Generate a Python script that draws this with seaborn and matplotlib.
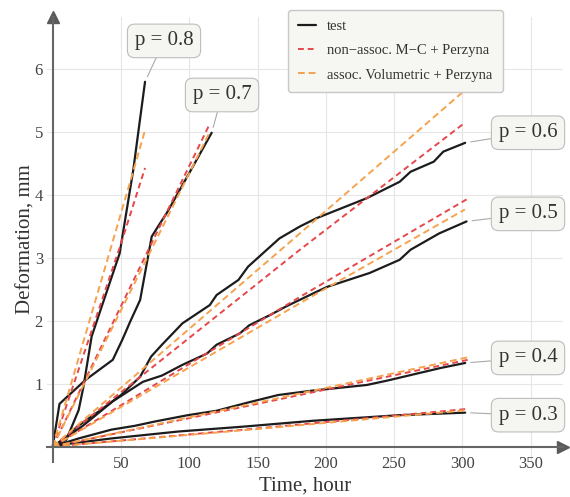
import numpy as np
import pandas as pd
import matplotlib.pyplot as plt
import seaborn as sns

# DATOS
# Curvas de ensayo (test): tiempo en horas, deformación en mm
t_test_08 = [0, 10, 19, 22.5, 28.5, 35, 49, 59, 67.6]
d_test_08 = [0, 0.11, 0.58, 0.95, 1.75, 2.17, 3.07, 4.40, 5.80]

t_test_07 = [0, 5, 10, 24, 44, 51, 57, 64, 72.5, 78.6, 83.4, 100, 116.4]
d_test_07 = [0, 0.68, 0.78, 1.06, 1.38, 1.70, 2.00, 2.33, 3.34, 3.55, 3.71, 4.35, 4.99]

t_test_06 = [0, 10, 18, 35, 50, 64, 72, 80, 95, 115, 120, 136, 143, 166, 181, 193, 230, 254, 262, 279, 286, 302]
d_test_06 = [0, 0.15, 0.32, 0.58, 0.82, 1.11, 1.43, 1.62, 1.96, 2.25, 2.41, 2.65, 2.86, 3.31, 3.50, 3.63, 3.95, 4.21, 4.37, 4.53, 4.69, 4.83]

t_test_05 = [0, 10, 22, 44, 66, 80, 95, 113, 120, 137, 144, 159, 171, 193, 201, 232, 254, 262, 283, 303]
d_test_05 = [0, 0.15, 0.33, 0.72, 1.03, 1.13, 1.30, 1.48, 1.62, 1.80, 1.93, 2.09, 2.23, 2.46, 2.54, 2.76, 2.97, 3.13, 3.39, 3.58]

t_test_04 = [0, 19, 43, 60, 75, 99, 120, 141, 165, 190, 230, 245, 284, 302]
d_test_04 = [0, 0.13, 0.27, 0.33, 0.40, 0.50, 0.57, 0.69, 0.82, 0.89, 0.98, 1.05, 1.25, 1.33]

t_test_03 = [0, 10, 43, 92, 141, 190, 254, 302]
d_test_03 = [0, 0.04, 0.13, 0.24, 0.32, 0.41, 0.50, 0.54]

# Modelo no asociado M-C + Perzyna
t_mc_08 = [0, 50.5, 67.6]
d_mc_08 = [0, 3.26, 4.43]
t_mc_07 = [0, 60, 115.2]
d_mc_07 = [0, 2.68, 5.14]
t_mc_06 = [0, 181, 301.8]
d_mc_06 = [0, 3.13, 5.15]
t_mc_05 = [0, 181, 303]
d_mc_05 = [0, 2.38, 3.93]
t_mc_04 = [0, 150, 304]
d_mc_04 = [0, 0.68, 1.38]
t_mc_03 = [0, 150, 304]
d_mc_03 = [0, 0.29, 0.60]

# Modelo asociado volumétrico + Perzyna
t_vol_08 = [0, 57.8, 67.6]
d_vol_08 = [0, 4.29, 5.03]
t_vol_07 = [0, 60, 115.2]
d_vol_07 = [0, 2.60, 5.01]
t_vol_06 = [0, 181, 300.4]
d_vol_06 = [0, 3.39, 5.64]
t_vol_05 = [0, 181, 301.8]
d_vol_05 = [0, 2.28, 3.77]
t_vol_04 = [0, 150, 304]
d_vol_04 = [0, 0.70, 1.42]
t_vol_03 = [0, 150, 304]
d_vol_03 = [0, 0.28, 0.58]

# Etiquetas de presión y posición de los cuadros
p_labels = ['p = 0.8', 'p = 0.7', 'p = 0.6', 'p = 0.5', 'p = 0.4', 'p = 0.3']
p_text_t = [81.5, 124, 348, 348, 348, 348]
p_text_d = [6.45, 5.59, 4.99, 3.70, 1.41, 0.50]

tests = [(t_test_08, d_test_08), (t_test_07, d_test_07), (t_test_06, d_test_06),
         (t_test_05, d_test_05), (t_test_04, d_test_04), (t_test_03, d_test_03)]
mcs = [(t_mc_08, d_mc_08), (t_mc_07, d_mc_07), (t_mc_06, d_mc_06),
       (t_mc_05, d_mc_05), (t_mc_04, d_mc_04), (t_mc_03, d_mc_03)]
vols = [(t_vol_08, d_vol_08), (t_vol_07, d_vol_07), (t_vol_06, d_vol_06),
        (t_vol_05, d_vol_05), (t_vol_04, d_vol_04), (t_vol_03, d_vol_03)]

# ESTILO
sns.set_theme(style='whitegrid')
plt.rcParams['font.family'] = ['Liberation Serif', 'DejaVu Serif']

color_test = '#1c1c1c'
color_mc = '#e5474b'
color_vol = '#f5a34e'
color_axis = '#666666'

fig = plt.figure(figsize=(5.7, 4.97), dpi=100)
ax = fig.add_axes([0.0819, 0.0710, 0.9058, 0.8948])

# GRÁFICO
for i in range(6):
    t, d = tests[i]
    sns.lineplot(x=t, y=d, ax=ax, color=color_test, lw=1.6, sort=False,
                 label='test' if i == 0 else None)
for i in range(6):
    t, d = mcs[i]
    sns.lineplot(x=t, y=d, ax=ax, color=color_mc, lw=1.4, sort=False,
                 label='non\u2212assoc. M\u2212C + Perzyna' if i == 0 else None)
    ax.lines[-1].set_dashes((3, 2))
for i in range(6):
    t, d = vols[i]
    sns.lineplot(x=t, y=d, ax=ax, color=color_vol, lw=1.4, sort=False,
                 label='assoc. Volumetric + Perzyna' if i == 0 else None)
    ax.lines[-1].set_dashes((3.5, 2))

# Cuadros de texto con la presión
for i in range(6):
    t, d = tests[i]
    ax.annotate(p_labels[i], xy=(t[-1], d[-1]), xytext=(p_text_t[i], p_text_d[i]),
                ha='center', va='center', fontsize=15, color='#333333',
                annotation_clip=False,
                bbox=dict(boxstyle='round,pad=0.35,rounding_size=0.35',
                          fc='#f5f6f1', ec='#bdbdbd', lw=0.8),
                arrowprops=dict(arrowstyle='-', color='#aaaaaa', lw=0.8,
                                shrinkA=0, shrinkB=4))

# EJES CON FLECHAS
ax.set_xlim(-4.4, 373.6)
ax.set_ylim(-0.24, 6.83)
ax.set_xticks([50, 100, 150, 200, 250, 300, 350])
ax.set_yticks([1, 2, 3, 4, 5, 6])
ax.grid(True, color='#e6e6e6', lw=0.8)
for s in ['top', 'right']:
    ax.spines[s].set_visible(False)
for s in ['left', 'bottom']:
    ax.spines[s].set_position(('data', 0))
    ax.spines[s].set_color(color_axis)
    ax.spines[s].set_linewidth(1.5)
ax.spines['left'].set_bounds(-0.24, 6.83)
ax.plot(1, 0, '>', color='#5a5a5a', ms=9, transform=ax.get_yaxis_transform(), clip_on=False)
ax.plot(0, 1, '^', color='#5a5a5a', ms=9, transform=ax.get_xaxis_transform(), clip_on=False)
ax.tick_params(direction='out', length=4, width=1.2, color=color_axis,
               labelcolor='#444444', labelsize=12, pad=3)

ax.set_xlabel('Time, hour', fontsize=15, color='#333333', labelpad=3)
ax.set_ylabel('Deformation, mm', fontsize=15, color='#333333', labelpad=-1)

ax.legend(loc='upper left', bbox_to_anchor=(0.467, 1.016), borderaxespad=0,
          fontsize=10.5, frameon=True, fancybox=True, facecolor='#f6f7f2',
          edgecolor='#c8c8c8', framealpha=1, handlelength=1.2, labelspacing=0.75,
          borderpad=0.7, labelcolor='#333333')

fig.savefig('out.png', dpi=100)
